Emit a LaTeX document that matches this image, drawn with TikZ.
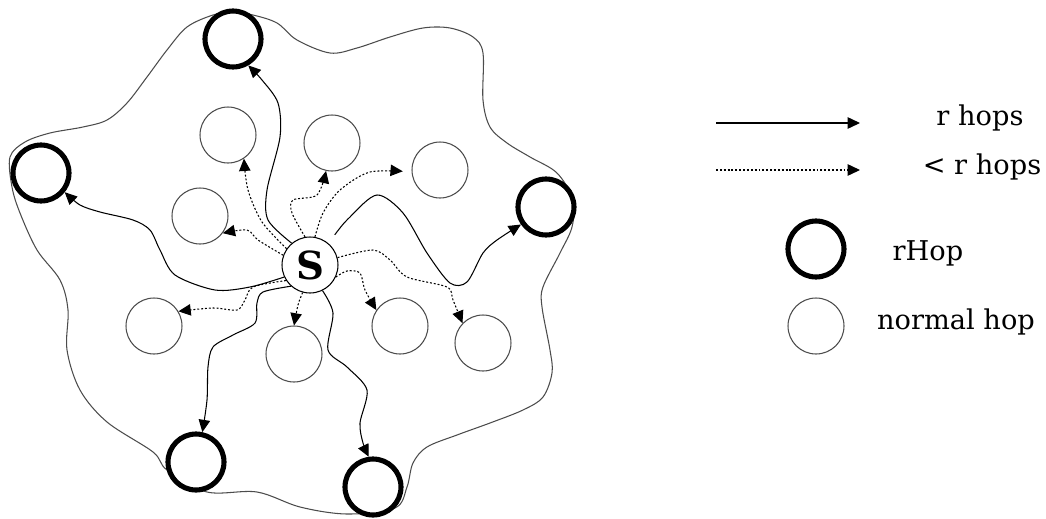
\documentclass[tikz,border=0pt]{standalone}
\usepackage{fontspec}
\setmainfont{DejaVu Serif}
\usetikzlibrary{arrows.meta}

\begin{document}
\begin{tikzpicture}[
  x=0.02cm, y=-0.02cm,
  hop/.style={draw=black!70, circle, line width=0.6pt, minimum size=1.12cm, inner sep=0pt, fill=white},
  rhop/.style={hop, draw=black, line width=2.9pt},
  src/.style={hop, draw=black, font=\fontsize{22}{24}\selectfont\bfseries},
  rarr/.style={-{Triangle[length=7pt,width=6.5pt]}, line width=0.6pt},
  darr/.style={rarr, dash pattern=on 1.1pt off 1.1pt},
  lbl/.style={font=\fontsize{15.5}{18}\selectfont}
]
\useasboundingbox (0,0) rectangle (1046,518);

% region reached within r hops
\draw[black!70, line width=0.6pt] plot[smooth cycle, tension=0.55] coordinates {
  (233,12) (253,15) (277,23) (297,40) (330,53) (357,48) (390,37) (423,28)
  (450,28) (473,37) (483,53) (483,100) (490,127) (507,143) (530,157) (557,173)
  (573,200) (572,227) (560,253) (543,287) (542,307) (550,350) (552,373) (543,397)
  (523,410) (490,423) (457,435) (427,447) (413,463) (407,487) (395,508) (347,514)
  (300,507) (257,492) (207,492) (167,470) (153,452) (107,422) (80,390) (67,350)
  (68,310) (60,280) (37,250) (20,213) (12,187) (10,157) (25,142) (50,133)
  (83,127) (107,120) (127,103) (147,77) (167,50) (187,27) (213,15)};

% nodes
\node[src] (S) at (310,265) {S};
\node[rhop] (rtop) at (233,39) {};
\node[rhop] (rleft) at (41,173) {};
\node[rhop] (rright) at (546,207) {};
\node[rhop] (rbl) at (196,462) {};
\node[rhop] (rbot) at (373,487) {};
\node[hop] (h1) at (228,135) {};
\node[hop] (h2) at (332,143) {};
\node[hop] (h3) at (440,170) {};
\node[hop] (h4) at (200,216) {};
\node[hop] (h5) at (154,326) {};
\node[hop] (h6) at (294,354) {};
\node[hop] (h7) at (400,326) {};
\node[hop] (h8) at (483,343) {};

% r hops
\draw[rarr] plot[smooth] coordinates {(S.130) (268,220) (267,190) (280,137) (278,103) (262,80) (rtop.-60)};
\draw[rarr] plot[smooth] coordinates {(S.205) (250,287) (215,290) (175,275) (160,250) (150,230) (133,220) (100,212) (80,205) (rleft.-39)};
\draw[rarr, shorten <=6pt] plot[smooth] coordinates {(S.50) (350,217) (377,195) (403,213) (427,253) (450,283) (467,282) (483,253) (497,240) (rright.215)};
\draw[rarr] plot[smooth] coordinates {(S.228) (263,292) (257,303) (255,323) (233,335) (213,347) (208,367) (207,400) (rbl.78)};
\draw[rarr] plot[smooth] coordinates {(S.-64) (333,313) (328,350) (347,367) (367,390) (360,423) (363,443) (rbot.98)};

% < r hops
\draw[darr] plot[smooth] coordinates {(S.145) (262,222) (248,190) (h1.-56)};
\draw[darr] plot[smooth] coordinates {(S.160) (258,240) (247,230) (h4.-37)};
\draw[darr] plot[smooth] coordinates {(S.100) (292,213) (293,200) (317,195) (h2.258)};
\draw[darr, shorten >=5pt] plot[smooth] coordinates {(S.80) (323,213) (340,190) (370,172) (h3.184)};
\draw[darr] plot[smooth] coordinates {(S.213) (253,287) (245,300) (237,310) (213,308) (h5.31)};
\draw[darr] plot[smooth] coordinates {(S.255) (298,305) (h6.90)};
\draw[darr] plot[smooth] coordinates {(S.-25) (347,271) (360,273) (365,290) (h7.146)};
\draw[darr] plot[smooth] coordinates {(S.15) (373,250) (390,260) (407,277) (447,287) (453,300) (h8.136)};

% legend
\coordinate (ka) at (716,123);
\coordinate (kb) at (860,123);
\coordinate (kc) at (716,170);
\coordinate (kd) at (860,170);
\draw[rarr] (ka) -- (kb);
\draw[darr] (kc) -- (kd);
\node[lbl] (krh) at (980,118) {r hops};
\node[lbl] (klh) at (982,167) {< r hops};
\node[rhop] (kr) at (816,249) {};
\node[lbl] (krt) at (928,253) {rHop};
\node[hop] (kn) at (816,326) {};
\node[lbl] (knt) at (956,322) {normal hop};
\end{tikzpicture}
\end{document}
